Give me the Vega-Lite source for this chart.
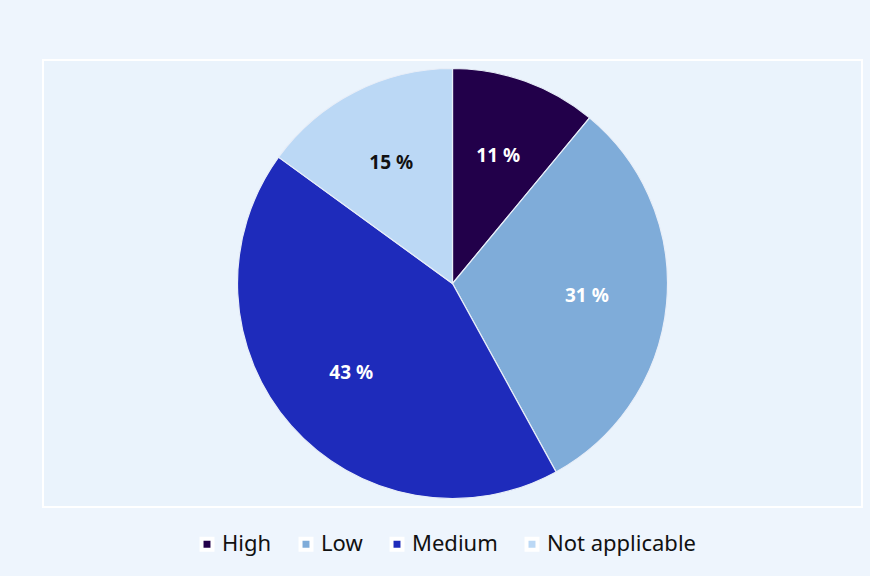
{
  "$schema": "https://vega.github.io/schema/vega-lite/v6.json",
  "width": 819,
  "height": 447,
  "autosize": {"type": "none"},
  "padding": {"left": 43, "top": 60, "right": 8, "bottom": 69},
  "background": "#EEF5FD",
  "view": {"fill": "#EAF3FC", "stroke": "#FFFFFF", "strokeWidth": 2},
  "config": {"font": "Noto Sans"},
  "data": {
    "values": [
      {"category": "High", "value": 11, "label": "11 %"},
      {"category": "Low", "value": 31, "label": "31 %"},
      {"category": "Medium", "value": 43, "label": "43 %"},
      {"category": "Not applicable", "value": 15, "label": "15 %"}
    ]
  },
  "encoding": {
    "theta": {"field": "value", "type": "quantitative", "stack": true},
    "color": {
      "field": "category",
      "type": "nominal",
      "scale": {
        "domain": ["High", "Low", "Medium", "Not applicable"],
        "range": ["#22004A", "#7FACD9", "#1E2BBB", "#BBD8F5"]
      },
      "legend": {
        "title": null,
        "orient": "none",
        "direction": "horizontal",
        "legendX": 153,
        "legendY": 473,
        "symbolType": "square",
        "symbolSize": 120,
        "symbolStrokeColor": "#FFFFFF",
        "symbolStrokeWidth": 4,
        "labelFontSize": 22,
        "labelColor": "#111111",
        "labelFont": "Noto Sans",
        "labelOffset": 4,
        "columnPadding": 20,
        "symbolOffset": 0
      }
    },
    "order": {"field": "category", "sort": "ascending"}
  },
  "layer": [
    {
      "mark": {"type": "arc", "outerRadius": 215, "stroke": "#E8EEF8", "strokeWidth": 1.2}
    },
    {
      "mark": {"type": "text", "radius": 135, "fontSize": 19, "fontWeight": "bold", "font": "Noto Sans"},
      "encoding": {
        "text": {"field": "label"},
        "color": {
          "condition": {"test": "datum.category === 'Not applicable'", "value": "#111111"},
          "value": "#FFFFFF"
        }
      }
    }
  ]
}
